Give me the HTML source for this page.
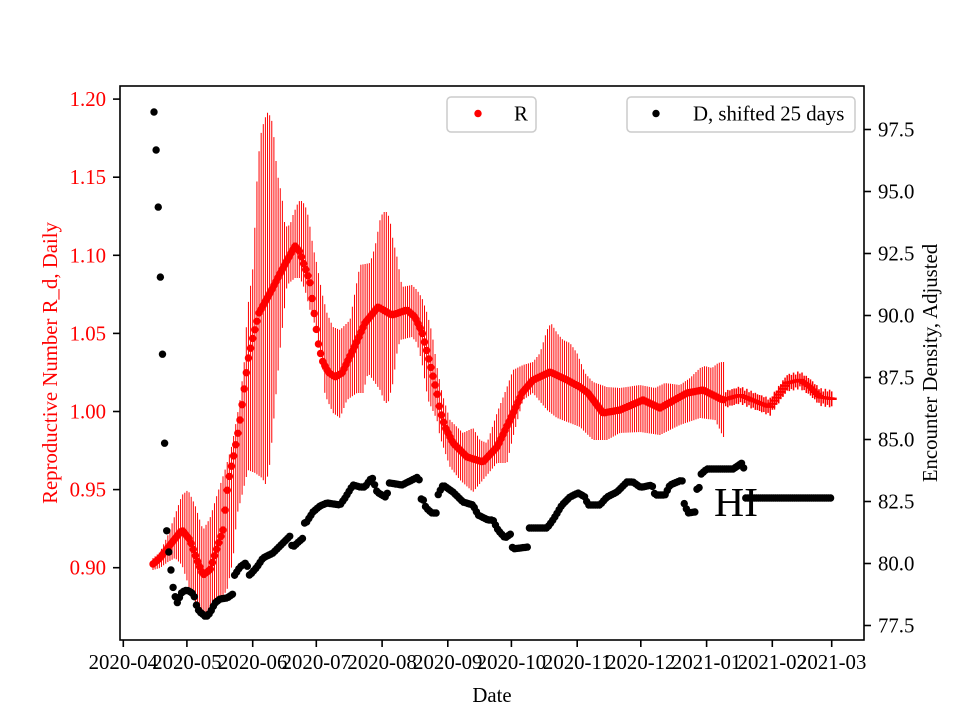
<!DOCTYPE html>
<html>
<head>
<meta charset="utf-8">
<style>
html,body{margin:0;padding:0;background:#fff;}
svg{display:block;}
text{font-family:"Liberation Serif","Times New Roman",serif;}
</style>
</head>
<body>
<svg id="s" width="960" height="720" xmlns="http://www.w3.org/2000/svg">
<rect x="0" y="0" width="960" height="720" fill="#fff"/>
<g id="data"></g>
<text x="714" y="516" font-size="41.7" fill="#000">HI</text>
<rect x="120" y="86" width="744" height="554" fill="none" stroke="#000" stroke-width="1.6"/>
<g id="axes" stroke="#000" stroke-width="1.6"></g>
<g id="labels" font-size="20.8"></g>
<text x="492" y="702" font-size="20.8" text-anchor="middle" fill="#000">Date</text>
<text transform="translate(57,363) rotate(-90)" font-size="20.8" text-anchor="middle" fill="#ff0000">Reproductive Number R_d, Daily</text>
<text transform="translate(937,363) rotate(-90)" font-size="20.8" text-anchor="middle" fill="#000">Encounter Density, Adjusted</text>
<rect x="447" y="97" width="89" height="35" rx="4" ry="4" fill="#fff" fill-opacity="0.8" stroke="#cccccc" stroke-width="1.5"/>
<circle cx="478" cy="113.5" r="3.7" fill="#ff0000"/>
<text x="514" y="120.5" font-size="20.8" fill="#000">R</text>
<rect x="627" y="97" width="228" height="35" rx="4" ry="4" fill="#fff" fill-opacity="0.8" stroke="#cccccc" stroke-width="1.5"/>
<circle cx="656" cy="113.5" r="3.7" fill="#000"/>
<text x="693" y="120.5" font-size="20.8" fill="#000">D, shifted 25 days</text>
</svg>
<script>
(function(){
function interp(a,x){
  if(x<=a[0][0]) return a[0][1];
  for(var i=1;i<a.length;i++){
    if(x<=a[i][0]){var x0=a[i-1][0],y0=a[i-1][1],x1=a[i][0],y1=a[i][1];
      if(x1===x0) return y1; return y0+(y1-y0)*(x-x0)/(x1-x0);}
  }
  return a[a.length-1][1];
}
var R=[[153,564],[160,558],[170,545],[182,530],[190,540],[197,560],[203,575],[210,570],[217,548],[223,530],[228,483],[234,454],[239,427],[243,398],[248,360],[253,337],[259,313],[270,293],[282,270],[290,255],[295,246],[300,252],[303,262],[307,273],[310,283],[312,298],[314,312],[316,327],[318,342],[322,360],[328,372],[335,377],[342,373],[353,350],[365,323],[378,307],[392,315],[407,310],[415,317],[422,332],[427,352],[432,372],[437,393],[440,410],[445,427],[453,443],[467,457],[483,462],[497,447],[510,420],[522,393],[533,380],[550,372],[567,380],[580,387],[588,393],[603,413],[620,410],[643,400],[660,408],[687,393],[703,390],[723,400],[740,395],[757,402],[770,407],[777,397],[787,383],[800,380],[810,387],[820,397],[833,399]];
var TOP=[[153,558],[160,552],[168,535],[175,515],[182,495],[188,490],[195,505],[203,530],[210,518],[217,495],[225,470],[232,445],[240,400],[245,355],[247,313],[250,290],[253,267],[257,180],[260,138],[263,125],[267,112],[271,117],[273,127],[277,172],[282,197],[285,227],[290,225],[293,215],[297,205],[300,200],[303,202],[307,210],[310,227],[313,247],[317,265],[322,293],[327,313],[333,327],[340,330],[350,320],[355,292],[360,265],[370,263],[375,247],[380,220],[383,212],[387,212],[390,220],[393,240],[397,257],[402,287],[412,285],[417,290],[422,298],[427,313],[432,333],[437,367],[442,393],[450,420],[463,433],[473,428],[480,440],[487,443],[497,413],[507,387],[513,370],[523,365],[533,362],[540,353],[547,330],[551,323],[557,333],[563,340],[570,343],[577,353],[585,373],[593,382],[607,387],[620,388],[640,385],[655,388],[665,383],[680,385],[690,378],[700,368],[705,366],[712,368],[718,363],[722,362],[725,362]];
var BOT=[[153,570],[160,568],[168,562],[175,558],[182,565],[190,590],[197,607],[203,612],[210,612],[217,605],[227,590],[233,560],[237,515],[242,495],[248,470],[255,473],[262,478],[266,485],[270,463],[277,383],[280,350],[287,285],[295,278],[300,278],[305,290],[310,310],[315,325],[320,340],[325,395],[333,413],[340,418],[347,400],[357,393],[363,393],[368,373],[373,380],[380,390],[385,403],[388,403],[393,383],[397,353],[400,340],[412,337],[417,343],[422,363],[428,400],[437,420],[440,437],[450,467],[460,480],[473,492],[483,480],[497,463],[507,463],[513,437],[523,400],[533,393],[547,410],[557,418],[570,423],[580,427],[593,440],[607,440],[620,433],[640,432],[660,435],[680,425],[700,418],[715,420],[720,430],[723,437],[725,437]];
var D=[[154,112],[156.12,150],[158.24,207],[160.36,277],[162.48,354],[164.6,443],[166.73,531],[168.85,552],[170.97,570],[173,587],[175.5,598],[177.5,603],[180,596],[182,592],[187,590],[192,593],[195,598],[197,608],[200,612],[206,617],[210,613],[215,603],[220,599],[227,598],[233,594],[233.5,577],[240,567],[247,562],[248,575],[250,575],[257,567],[263,558],[273,553],[283,543],[291,535],[292,547],[293,547],[303,538],[304,523],[306,523],[313,512],[320,506],[327,503],[340,505],[345,498],[353,485],[360,487],[365,487],[372,477],[377,492],[387,498],[388,483],[390,483],[402,485],[412,480],[418,477],[420,482],[421,499],[423,499],[426,508],[432,513],[437,513],[438,495],[443,485],[453,492],[463,502],[473,505],[478,515],[488,520],[493,520],[498,530],[505,538],[512,533],[512.5,549],[520,548],[528,547],[529,528],[547,528],[553,520],[562,505],[570,497],[578,493],[585,497],[588,505],[600,505],[607,497],[617,492],[627,482],[633,482],[640,487],[643,487],[652,485],[655,495],[665,495],[670,485],[682,480],[683,487],[684,503],[688,513],[695,512],[697,489],[699,489],[700,475],[707,469],[733,469],[742,463],[744,469],[745,498],[832,498]];
var step=2.121, s="";
var bars="", dots="", plus="";
for(var d=0;;d++){
  var x=153+step*d; if(x>833.5) break;
  var y=interp(R,x);
  if(x<=725.5){
    var t=Math.min(interp(TOP,x),y), b=Math.max(interp(BOT,x),y);
    bars+='<line x1="'+x.toFixed(2)+'" y1="'+t.toFixed(1)+'" x2="'+x.toFixed(2)+'" y2="'+b.toFixed(1)+'"/>';
    dots+='<circle cx="'+x.toFixed(2)+'" cy="'+y.toFixed(1)+'" r="3.7"/>';
  } else {
    var h=6+3*Math.abs(Math.sin(d*1.7));
    plus+='<line x1="'+x.toFixed(2)+'" y1="'+(y-h).toFixed(1)+'" x2="'+x.toFixed(2)+'" y2="'+(y+h).toFixed(1)+'" stroke-width="1.5"/>';
    plus+='<line x1="'+(x-5).toFixed(2)+'" y1="'+y.toFixed(1)+'" x2="'+(x+5).toFixed(2)+'" y2="'+y.toFixed(1)+'" stroke-width="2.4"/>';
  }
}
s+='<g stroke="#ff0000" stroke-width="1">'+bars+'</g>';
s+='<g fill="#ff0000">'+dots+'</g>';
s+='<g stroke="#ff0000">'+plus+'</g>';
var dd="";
for(var k=0;;k++){
  var x2=154+step*k; if(x2>832.5) break;
  var y2=interp(D,x2);
  dd+='<circle cx="'+x2.toFixed(2)+'" cy="'+y2.toFixed(1)+'" r="3.7"/>';
}
s+='<g fill="#000">'+dd+'</g>';
document.getElementById("data").innerHTML=s;
var ax="", lb="";
var lv=["1.20","1.15","1.10","1.05","1.00","0.95","0.90"];
for(var i=0;i<lv.length;i++){
  var v=parseFloat(lv[i]); var yy=411.5-(v-1)*1562;
  ax+='<line x1="113" y1="'+yy.toFixed(1)+'" x2="120" y2="'+yy.toFixed(1)+'"/>';
  lb+='<text x="106" y="'+(yy+7).toFixed(1)+'" text-anchor="end" fill="#ff0000">'+lv[i]+'</text>';
}
var rv=["97.5","95.0","92.5","90.0","87.5","85.0","82.5","80.0","77.5"];
for(var j=0;j<rv.length;j++){
  var yr=129.5+62*j;
  ax+='<line x1="864" y1="'+yr+'" x2="871" y2="'+yr+'"/>';
  lb+='<text x="878" y="'+(yr+7)+'" fill="#000">'+rv[j]+'</text>';
}
var xd=[0,30,61,91,122,153,183,214,244,275,306,334];
var xl=["2020-04","2020-05","2020-06","2020-07","2020-08","2020-09","2020-10","2020-11","2020-12","2021-01","2021-02","2021-03"];
for(var m=0;m<xd.length;m++){
  var xx=123.3+2.121*xd[m];
  ax+='<line x1="'+xx.toFixed(1)+'" y1="640" x2="'+xx.toFixed(1)+'" y2="647"/>';
  lb+='<text x="'+xx.toFixed(1)+'" y="669" text-anchor="middle" fill="#000">'+xl[m]+'</text>';
}
document.getElementById("axes").innerHTML=ax;
document.getElementById("labels").innerHTML=lb;
})();
</script>
</body>
</html>
